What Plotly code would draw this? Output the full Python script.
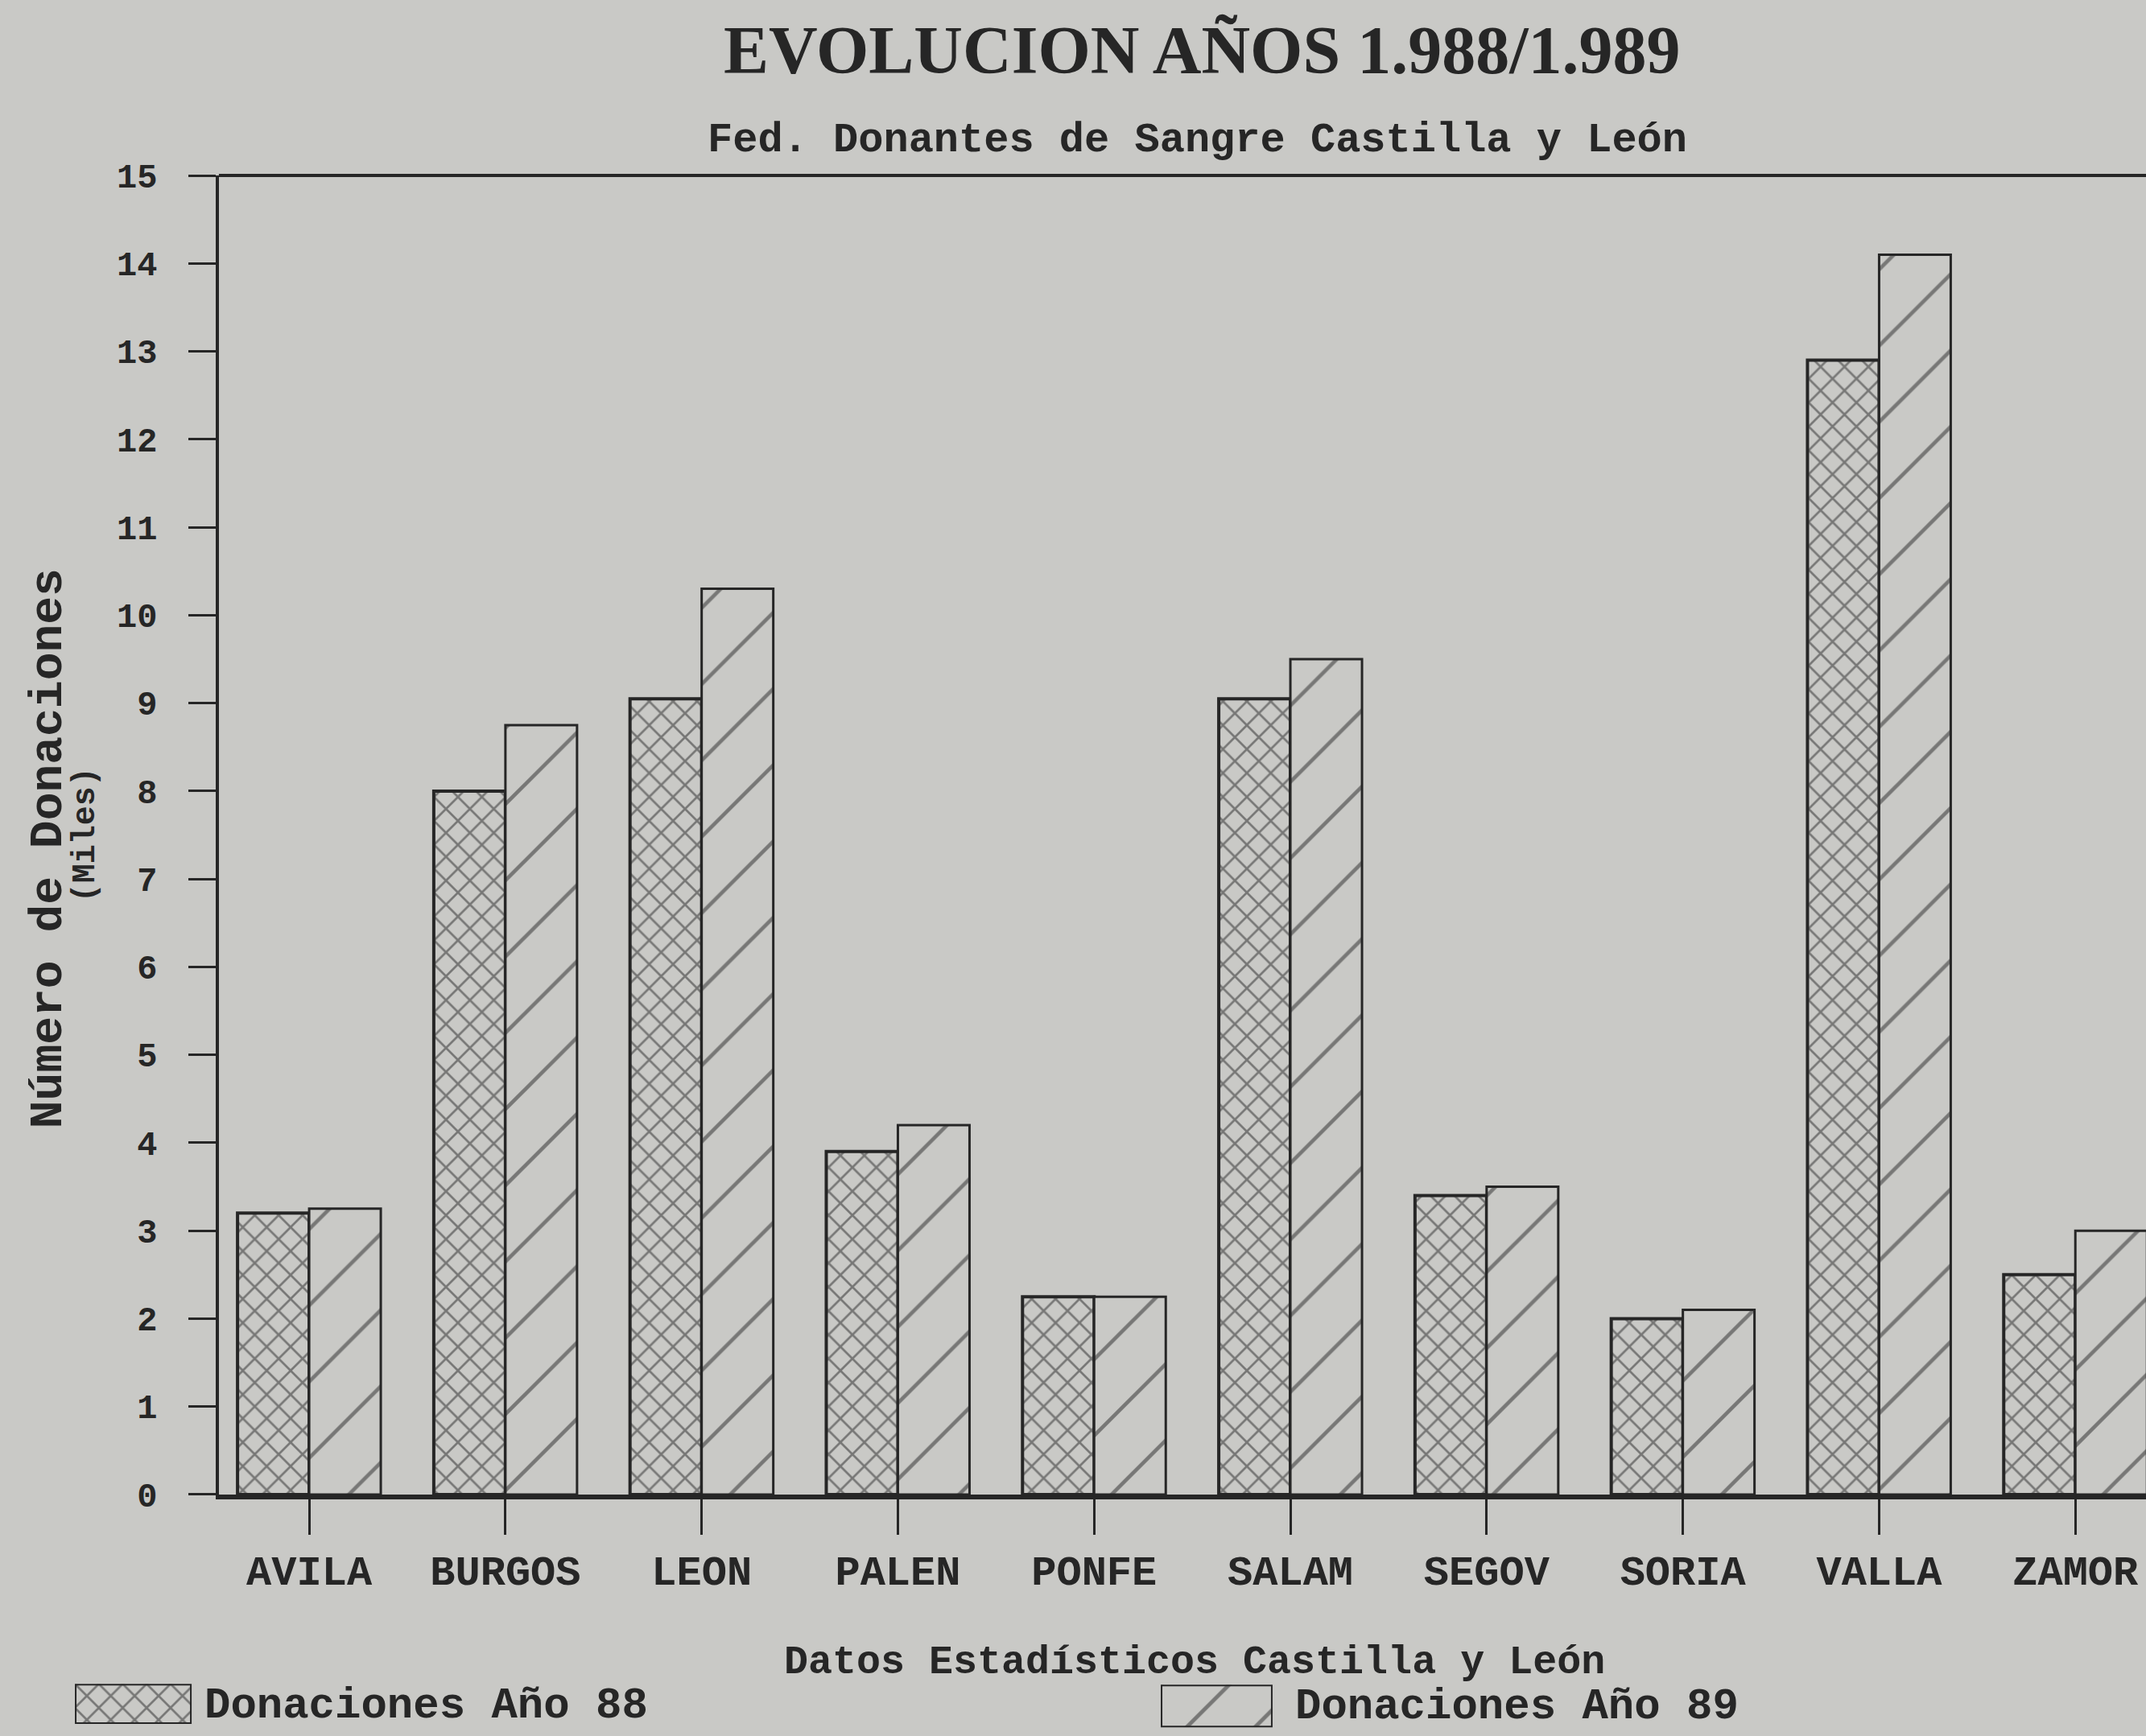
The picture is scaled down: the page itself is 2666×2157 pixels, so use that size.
import plotly.graph_objects as go

provincias = ["AVILA", "BURGOS", "LEON", "PALEN", "PONFE", "SALAM", "SEGOV", "SORIA", "VALLA", "ZAMOR"]
donaciones_88 = [3.2, 8.0, 9.05, 3.9, 2.25, 9.05, 3.4, 2.0, 12.9, 2.5]
donaciones_89 = [3.25, 8.75, 10.3, 4.2, 2.25, 9.5, 3.5, 2.1, 14.1, 3.0]
y_ticks = list(range(0, 16))
series_names = ["Donaciones Año 88", "Donaciones Año 89"]
legend_swatch = [1]

INK = "#262626"
PAPER = "#c9c9c6"
FONT = "Liberation Mono"

pat_88 = dict(shape="x", size=21, solidity=0.24, fgcolor=INK, bgcolor=PAPER)
pat_89 = dict(shape="/", size=67, solidity=0.07, fgcolor=INK, bgcolor=PAPER)

fig = go.Figure()
fig.add_trace(go.Bar(
    x=provincias, y=donaciones_88, name=series_names[0], showlegend=False,
    marker=dict(color=PAPER, line=dict(color=INK, width=4), pattern=pat_88),
))
fig.add_trace(go.Bar(
    x=provincias, y=donaciones_89, name=series_names[1], showlegend=False,
    marker=dict(color=PAPER, line=dict(color=INK, width=3), pattern=pat_89),
))
# legend swatches drawn as bars in their own small axes
fig.add_trace(go.Bar(
    x=[0], y=legend_swatch, width=[1], xaxis="x2", yaxis="y2", showlegend=False,
    hoverinfo="skip",
    marker=dict(color=PAPER, line=dict(color=INK, width=4), pattern=pat_88),
))
fig.add_trace(go.Bar(
    x=[0], y=legend_swatch, width=[1], xaxis="x3", yaxis="y3", showlegend=False,
    hoverinfo="skip",
    marker=dict(color=PAPER, line=dict(color=INK, width=4),
                pattern=dict(shape="/", size=60, solidity=0.08, fgcolor=INK, bgcolor=PAPER)),
))

fig.update_layout(
    width=2666, height=2157,
    paper_bgcolor=PAPER, plot_bgcolor=PAPER,
    margin=dict(l=0, r=0, t=0, b=0, autoexpand=False),
    barmode="group", bargap=0.27, bargroupgap=0,
    font=dict(family=FONT, color=INK, size=40),
    showlegend=False,
    xaxis=dict(
        domain=[0.1020, 1.0], anchor="y", automargin=False,
        range=[-0.46, 9.36], showgrid=False, zeroline=False,
        showline=True, linecolor=INK, linewidth=6,
        ticks="outside", ticklen=44, tickwidth=3, tickcolor=INK,
        ticklabelstandoff=0,
        tickfont=dict(family=FONT, size=52, color=INK),
        tickvals=provincias, ticktext=["<b>%s</b>" % p for p in provincias],
    ),
    yaxis=dict(
        domain=[0.1391, 0.8989], anchor="x", automargin=False,
        range=[0, 15], showgrid=False, zeroline=False,
        showline=True, linecolor=INK, linewidth=4,
        ticks="outside", ticklen=34, tickwidth=3, tickcolor=INK,
        tickvals=y_ticks, ticktext=["<b>%d</b>" % v for v in y_ticks],
        tickfont=dict(family=FONT, size=42, color=INK),
        ticklabelstandoff=30,
    ),
    xaxis2=dict(domain=[0.0349, 0.0893], anchor="y2", range=[-0.5, 0.5], visible=False, automargin=False),
    yaxis2=dict(domain=[0.0070, 0.0300], anchor="x2", range=[0, 1], visible=False, automargin=False),
    xaxis3=dict(domain=[0.5409, 0.5930], anchor="y3", range=[-0.5, 0.5], visible=False, automargin=False),
    yaxis3=dict(domain=[0.0050, 0.0295], anchor="x3", range=[0, 1], visible=False, automargin=False),
    annotations=[
        dict(text="<b>EVOLUCION AÑOS 1.988/1.989</b>", xref="paper", yref="paper",
             x=0.560, y=0.9708, xanchor="center", yanchor="middle",
             showarrow=False, font=dict(family="Liberation Serif", size=84, color=INK)),
        dict(text="<b>Fed. Donantes de Sangre Castilla y León</b>", xref="paper", yref="paper",
             x=0.558, y=0.9189, xanchor="center", yanchor="middle",
             showarrow=False, font=dict(family=FONT, size=52, color=INK)),
        dict(text="<b>Número de Donaciones</b>", xref="paper", yref="paper",
             x=0.0230, y=0.5114, xanchor="center", yanchor="middle", textangle=-90,
             showarrow=False, font=dict(family=FONT, size=58, color=INK)),
        dict(text="<b>(Miles)</b>", xref="paper", yref="paper",
             x=0.0400, y=0.519, xanchor="center", yanchor="middle", textangle=-90,
             showarrow=False, font=dict(family=FONT, size=40, color=INK)),
        dict(text="<b>Datos Estadísticos Castilla y León</b>", xref="paper", yref="paper",
             x=0.5567, y=0.0422, xanchor="center", yanchor="middle",
             showarrow=False, font=dict(family=FONT, size=50, color=INK)),
        dict(text="<b>%s</b>" % series_names[0], xref="paper", yref="paper",
             x=0.0945, y=0.0175, xanchor="left", yanchor="middle",
             showarrow=False, font=dict(family=FONT, size=54, color=INK)),
        dict(text="<b>%s</b>" % series_names[1], xref="paper", yref="paper",
             x=0.6028, y=0.0170, xanchor="left", yanchor="middle",
             showarrow=False, font=dict(family=FONT, size=54, color=INK)),
    ],
    shapes=[
        dict(type="line", xref="x domain", yref="y domain", x0=0, x1=1, y0=1, y1=1,
             line=dict(color=INK, width=4)),
    ],
)

fig.write_html(
    "out.html",
    config={"displayModeBar": False},
    post_script="document.body.style.margin='0';document.body.style.background='%s';" % PAPER,
)
